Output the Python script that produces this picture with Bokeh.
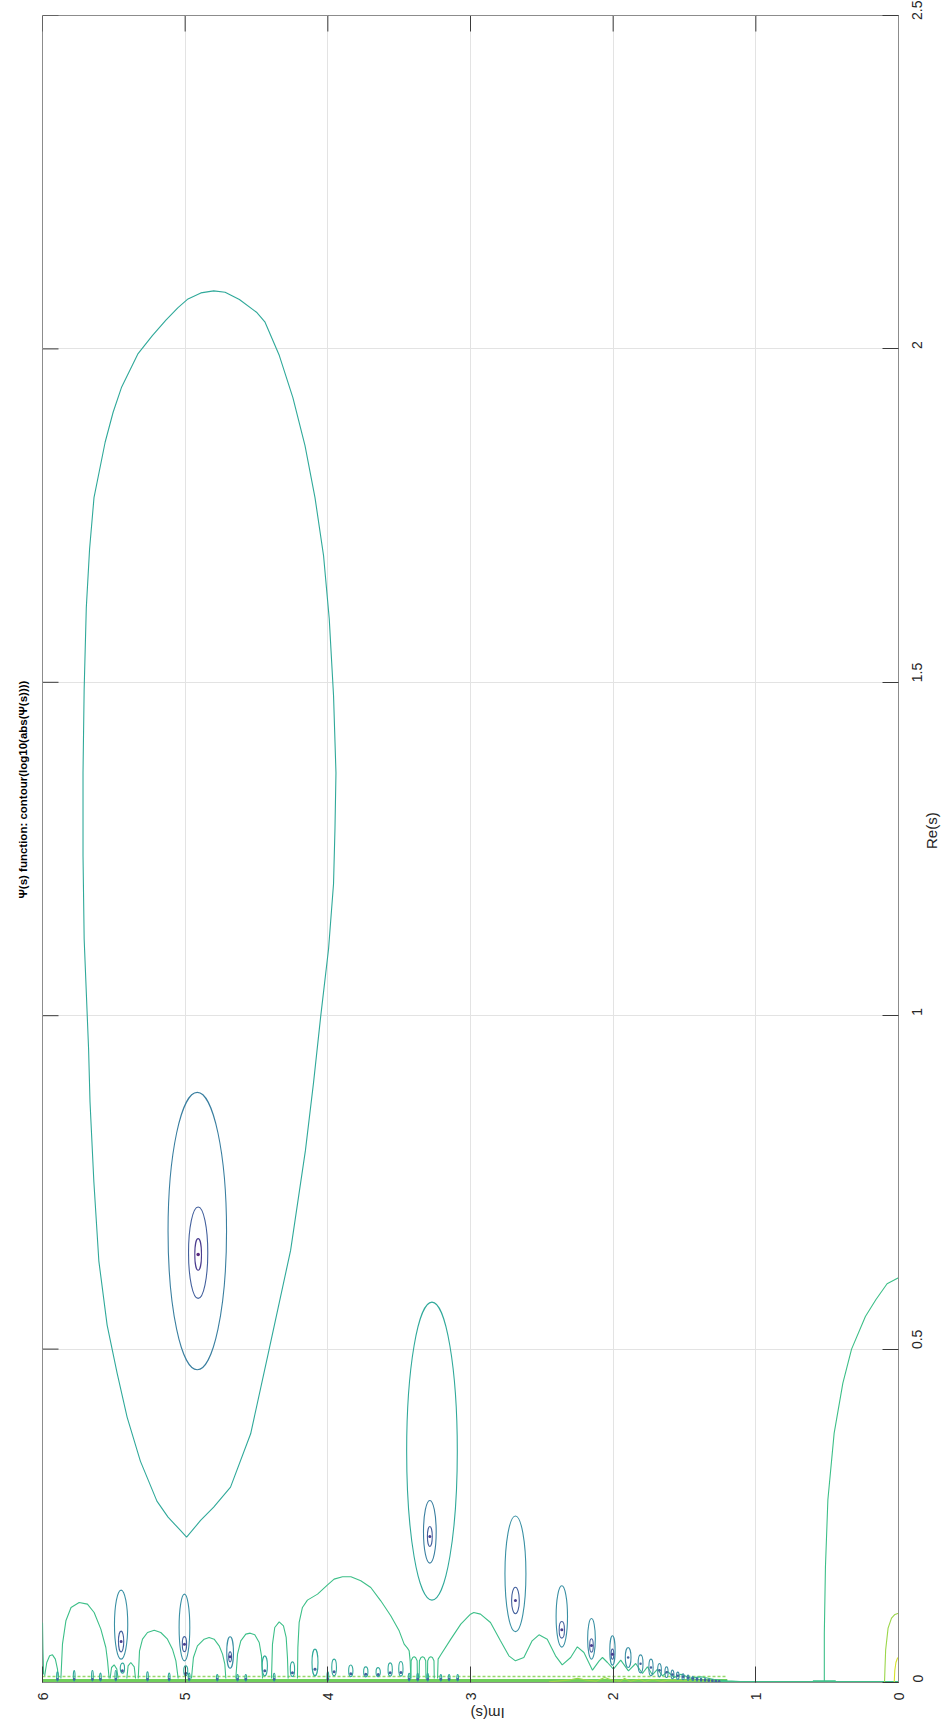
import math
from bokeh.plotting import figure
from bokeh.models import Range1d, FixedTicker
from bokeh.embed import file_html
from bokeh.resources import INLINE

# ---- axis ticks ----
im_ticks = [0, 1, 2, 3, 4, 5, 6]
re_ticks = [0, 0.5, 1, 1.5, 2, 2.5]
re_tick_labels = ["0", "0.5", "1", "1.5", "2", "2.5"]

# ---- contour level colours (viridis family, low -> high) ----
c_dot = "#5a2a80"
c_core = "#4b3d8f"
c_inner = "#43609d"
c_ring = "#3a7fa0"
c_group = "#3a90a4"
c_main = "#30a99a"
c_arch = "#3dbf88"
c_band = "#6fcf5a"
c_band_hi = "#94d96a"
c_light = "#9bd64a"
c_yellow = "#d6e22a"

# ---- large closed contour around the zero near Im=4.9 (Im, Re) ----
big_im = [4.99, 5.033, 5.12, 5.198, 5.314, 5.407, 5.477, 5.547, 5.605, 5.64, 5.667, 5.677,
          5.708, 5.716, 5.716, 5.708, 5.693, 5.67, 5.639, 5.561, 5.505, 5.445, 5.33, 5.23,
          5.135, 5.05, 4.98, 4.89, 4.80, 4.72, 4.62, 4.5, 4.44, 4.34, 4.245, 4.16, 4.09,
          4.03, 3.99, 3.96, 3.943, 3.95, 3.96, 3.995, 4.05, 4.10, 4.157, 4.261, 4.413,
          4.541, 4.682, 4.8, 4.892, 4.99]
big_re = [0.218, 0.228, 0.248, 0.272, 0.332, 0.398, 0.464, 0.536, 0.632, 0.751, 0.871, 0.95,
          1.115, 1.24, 1.364, 1.49, 1.612, 1.70, 1.777, 1.86, 1.905, 1.943, 1.993, 2.02,
          2.043, 2.062, 2.075, 2.084, 2.087, 2.085, 2.074, 2.055, 2.04, 1.99, 1.927, 1.855,
          1.777, 1.69, 1.595, 1.48, 1.364, 1.28, 1.198, 1.1, 0.999, 0.9, 0.798, 0.648, 0.498,
          0.373, 0.293, 0.263, 0.243, 0.218]

# ---- nested rings around the zero near Im=4.9 ----
z49_im = [4.915, 4.909, 4.909]
z49_re = [0.677, 0.6445, 0.642]
z49_w = [0.41, 0.135, 0.047]
z49_h = [0.416, 0.137, 0.0475]

# ---- nested rings around the zero near Im=3.28 ----
z33_im = [3.27, 3.285, 3.285]
z33_re = [0.347, 0.226, 0.219]
z33_w = [0.355, 0.089, 0.034]
z33_h = [0.447, 0.094, 0.03]

# ---- smaller zero groups: outer and inner rings ----
grp_im = [5.449, 5.005, 4.685, 2.685, 2.36, 2.152, 2.005]
grp_outer_re = [0.0868, 0.0825, 0.045, 0.163, 0.099, 0.0655, 0.048]
grp_outer_w = [0.093, 0.075, 0.047, 0.147, 0.08, 0.054, 0.037]
grp_outer_h = [0.1035, 0.10, 0.047, 0.1735, 0.092, 0.061, 0.044]
grp_inner_re = [0.0615, 0.0575, 0.0385, 0.123, 0.079, 0.0555, 0.0425]
grp_inner_w = [0.037, 0.03, 0.02, 0.054, 0.037, 0.025, 0.018]
grp_inner_h = [0.031, 0.0225, 0.015, 0.04, 0.025, 0.02, 0.015]

# ---- shrinking chain of loops approaching Im=1.25 ----
chain_im = [1.895, 1.808, 1.735, 1.675, 1.626, 1.584, 1.547, 1.51, 1.475, 1.442, 1.412,
            1.384, 1.356, 1.33, 1.305, 1.28, 1.257]
chain_re = [0.0375, 0.028, 0.0225, 0.0185, 0.0155, 0.012, 0.010, 0.0085, 0.007, 0.006,
            0.005, 0.0042, 0.0036, 0.003, 0.0026, 0.0022, 0.0018]
chain_w = [0.04, 0.034, 0.03, 0.026, 0.022, 0.02, 0.018, 0.016, 0.014, 0.013, 0.012,
           0.011, 0.01, 0.009, 0.008, 0.008, 0.007]
chain_h = [0.03, 0.027, 0.025, 0.02, 0.016, 0.013, 0.011, 0.009, 0.008, 0.007, 0.006,
           0.005, 0.0045, 0.004, 0.0035, 0.003, 0.0028]

# ---- small loops close to Re=0 ----
loop_im = [5.44, 4.996, 4.442, 4.248, 4.09, 3.956, 3.839, 3.734, 3.647, 3.563, 3.488]
loop_re = [0.0215, 0.0175, 0.025, 0.02, 0.03, 0.0225, 0.0175, 0.016, 0.0155, 0.0195, 0.0205]
loop_w = [0.03, 0.028, 0.037, 0.03, 0.042, 0.033, 0.03, 0.03, 0.03, 0.03, 0.03]
loop_h = [0.015, 0.015, 0.03, 0.022, 0.04, 0.025, 0.0175, 0.015, 0.0135, 0.02, 0.022]

tooth_im = [5.895, 5.778, 5.65, 5.594, 5.486, 5.264, 5.112, 4.972, 4.775, 4.633, 4.575,
            4.376, 4.0, 3.43, 3.37, 3.30, 3.208, 3.15, 3.09]
tooth_h = [0.014, 0.016, 0.016, 0.012, 0.016, 0.014, 0.012, 0.012, 0.01, 0.01, 0.01,
           0.012, 0.014, 0.012, 0.012, 0.012, 0.01, 0.01, 0.01]

# ---- arch-shaped contours rising from Re=0 ----
bump_im = [
    [6.0, 5.997, 5.992],
    [5.985, 5.97, 5.95, 5.93, 5.91, 5.895, 5.89],
    [5.871, 5.86, 5.836, 5.80, 5.743, 5.685, 5.638, 5.591, 5.556, 5.544, 5.533],
    [5.526, 5.516, 5.498, 5.479, 5.47],
    [5.409, 5.4, 5.381, 5.357, 5.348],
    [5.329, 5.32, 5.299, 5.264, 5.217, 5.171, 5.124, 5.089, 5.065, 5.049],
    [4.956, 4.942, 4.914, 4.867, 4.832, 4.797, 4.762, 4.738, 4.722, 4.715],
    [4.645, 4.633, 4.61, 4.575, 4.544, 4.512, 4.481, 4.465, 4.458],
    [4.395, 4.388, 4.372, 4.341, 4.311, 4.292, 4.283, 4.278],
    [4.213, 4.21, 4.201, 4.178, 4.143, 4.072, 4.002, 3.956, 3.897, 3.838, 3.769, 3.699,
     3.629, 3.559, 3.5, 3.465, 3.442, 3.43, 3.423, 3.418],
    [3.418, 3.416, 3.405, 3.395, 3.385, 3.374, 3.372],
    [3.36, 3.358, 3.347, 3.336, 3.325, 3.314, 3.312],
    [3.302, 3.3, 3.289, 3.278, 3.267, 3.256, 3.254],
    [3.231, 3.227, 3.208, 3.138, 3.068, 3.0, 2.977, 2.93, 2.86, 2.79, 2.731, 2.685, 2.626,
     2.568, 2.52, 2.462, 2.404, 2.357, 2.298, 2.251, 2.205, 2.145, 2.098, 2.075, 2.04,
     1.998, 1.947, 1.893, 1.842, 1.795, 1.76, 1.725, 1.689, 1.654, 1.619, 1.572, 1.525,
     1.455, 1.385, 1.292, 1.199, 1.08],
]
bump_re = [
    [0.09, 0.05, 0.012],
    [0.01, 0.03, 0.04, 0.0415, 0.035, 0.02, 0.01],
    [0.006, 0.0575, 0.0925, 0.1125, 0.12, 0.1175, 0.105, 0.08, 0.0525, 0.0325, 0.006],
    [0.006, 0.0225, 0.0265, 0.02, 0.006],
    [0.006, 0.025, 0.03, 0.0235, 0.006],
    [0.006, 0.0475, 0.065, 0.075, 0.0785, 0.075, 0.065, 0.05, 0.0325, 0.006],
    [0.006, 0.0375, 0.055, 0.065, 0.0675, 0.065, 0.055, 0.0425, 0.0275, 0.006],
    [0.006, 0.0425, 0.0625, 0.0725, 0.074, 0.0715, 0.06, 0.04, 0.006],
    [0.006, 0.0575, 0.0825, 0.091, 0.085, 0.0675, 0.0375, 0.006],
    [0.006, 0.0525, 0.09, 0.1125, 0.1235, 0.1325, 0.1465, 0.155, 0.1585, 0.1585, 0.1525,
     0.1425, 0.1225, 0.10, 0.0775, 0.0575, 0.0515, 0.0475, 0.0325, 0.006],
    [0.006, 0.0325, 0.0375, 0.0385, 0.0375, 0.0325, 0.006],
    [0.006, 0.0325, 0.0375, 0.0385, 0.0375, 0.0325, 0.006],
    [0.006, 0.0325, 0.0375, 0.0385, 0.0375, 0.0325, 0.006],
    [0.006, 0.035, 0.0415, 0.065, 0.0875, 0.1025, 0.105, 0.1025, 0.09, 0.0625, 0.04, 0.0325,
     0.0375, 0.0625, 0.0715, 0.065, 0.04, 0.0265, 0.0375, 0.0535, 0.045, 0.0185, 0.0325,
     0.0375, 0.03, 0.02, 0.0335, 0.0175, 0.0285, 0.0135, 0.0235, 0.0115, 0.02, 0.01,
     0.0165, 0.0075, 0.0125, 0.0065, 0.0085, 0.0045, 0.0025, 0.001],
]

# ---- contours near Im=0 ----
arc_im = [0.52, 0.52, 0.512, 0.495, 0.451, 0.39, 0.329, 0.232, 0.159, 0.08, 0.0]
arc_re = [0.0, 0.074, 0.174, 0.274, 0.374, 0.449, 0.5, 0.549, 0.574, 0.598, 0.607]
foot_im = [0.60, 0.44]
foot_re = [0.002, 0.002]
small_arc_im = [0.098, 0.095, 0.09, 0.073, 0.049, 0.025, 0.0]
small_arc_re = [0.0, 0.02, 0.049, 0.0815, 0.0965, 0.102, 0.104]
yellow_im = [0.03, 0.026, 0.018, 0.008, 0.0]
yellow_re = [0.0, 0.018, 0.03, 0.036, 0.038]

# ---- dense band of tiny loops along Re=0 ----
band_im = [6.0, 1.2]
band_hi_re = [0.009, 0.009]
band_lo_re = [0.003, 0.003]
wave_im = [2.45, 2.3, 2.25, 2.2, 2.12, 2.06, 2.0, 1.95, 1.92, 1.88, 1.82, 1.78, 1.72,
           1.66, 1.6, 1.5, 1.4, 1.3, 1.2]
wave_re = [0.001, 0.004, 0.0065, 0.004, 0.002, 0.0075, 0.003, 0.002, 0.006, 0.002, 0.005,
           0.002, 0.0045, 0.002, 0.004, 0.003, 0.003, 0.002, 0.001]
tail_im = [1.3, 0.0]
tail_re = [0.0012, 0.0012]

FRAME_L, FRAME_R, FRAME_T, FRAME_B = 42, 898, 15, 1682
IM_MIN, IM_MAX, RE_MIN, RE_MAX = 0, 6, 0, 2.5
PX_PER_IM = (FRAME_R - FRAME_L) / (IM_MAX - IM_MIN)
PX_PER_RE = (FRAME_B - FRAME_T) / (RE_MAX - RE_MIN)
TICK_PX = 16

FONT = "Liberation Sans"
TXT = "#262626"

p = figure(frame_width=FRAME_R - FRAME_L, frame_height=FRAME_B - FRAME_T,
           x_range=Range1d(IM_MAX, IM_MIN), y_range=Range1d(RE_MIN, RE_MAX),
           output_backend="svg", toolbar_location=None,
           x_axis_location="below", y_axis_location="right", title_location="left",
           min_border_left=FRAME_L, min_border_right=946 - FRAME_R,
           min_border_top=FRAME_T, min_border_bottom=1731 - FRAME_B,
           background_fill_color="white", border_fill_color="white")
p.outline_line_color = "#8c8c8c"
p.outline_line_width = 1

# title, written along the left side
p.title.text = "Ψ(s) function:  contour(log10(abs(Ψ(s))))"
p.title.align = "left"
p.title.offset = FRAME_B - 898
p.title.standoff = 27
p.title.text_font = FONT
p.title.text_font_size = "11.5px"
p.title.text_font_style = "bold"
p.title.text_color = "#000000"


def style_axis(ax, ticks):
    ax.ticker = FixedTicker(ticks=ticks)
    ax.major_tick_in = TICK_PX
    ax.major_tick_out = 0
    ax.minor_tick_in = 0
    ax.minor_tick_out = 0
    ax.major_tick_line_color = "#3a3a3a"
    ax.major_tick_line_width = 1
    ax.axis_line_color = "#8c8c8c"
    ax.axis_line_width = 1
    ax.major_label_text_font = FONT
    ax.major_label_text_color = TXT
    ax.major_label_text_font_size = "14px"
    ax.axis_label_text_font = FONT
    ax.axis_label_text_font_size = "15px"
    ax.axis_label_text_font_style = "normal"
    ax.axis_label_text_color = TXT


xa = p.xaxis[0]
style_axis(xa, im_ticks)
xa.major_label_orientation = math.pi / 2
xa.major_label_standoff = 10
xa.axis_label = "Im(s)"
xa.axis_label_orientation = math.pi
xa.axis_label_standoff = 10

ya = p.yaxis[0]
style_axis(ya, re_ticks)
ya.major_label_overrides = {t: s for t, s in zip(re_ticks, re_tick_labels)}
ya.major_label_orientation = math.pi / 2
ya.major_label_standoff = 19
ya.axis_label = "Re(s)"
ya.axis_label_orientation = math.pi / 2
ya.axis_label_standoff = 1

# inward tick marks on the top and left sides of the box
tick_len_re = TICK_PX / PX_PER_RE
tick_len_im = TICK_PX / PX_PER_IM
p.segment(x0=im_ticks, y0=[RE_MAX] * len(im_ticks), x1=im_ticks,
          y1=[RE_MAX - tick_len_re] * len(im_ticks), line_color="#3a3a3a", line_width=1)
p.segment(x0=[IM_MAX] * len(re_ticks), y0=re_ticks, x1=[IM_MAX - tick_len_im] * len(re_ticks),
          y1=re_ticks, line_color="#3a3a3a", line_width=1)

p.xgrid.ticker = FixedTicker(ticks=im_ticks)
p.ygrid.ticker = FixedTicker(ticks=re_ticks)
for g in (p.xgrid, p.ygrid):
    g.grid_line_color = "#e3e3e3"
    g.grid_line_width = 1

LW = 1.1

# dense band and low waves along Re = 0
p.line(band_im, band_lo_re, line_color=c_band, line_width=3)
p.line(band_im, band_hi_re, line_color=c_band_hi, line_width=1.6, line_dash="3 2")
p.line(wave_im, wave_re, line_color=c_light, line_width=LW)
p.line(tail_im, tail_re, line_color=c_arch, line_width=1.5)

# arches
p.multi_line(bump_im, bump_re, line_color=c_arch, line_width=LW)

# tiny teeth with dots
p.ellipse(tooth_im, [h / 2 + 0.002 for h in tooth_h], width=0.012, height=tooth_h,
          fill_color=None, line_color=c_main, line_width=LW)
p.scatter(tooth_im, [0.005] * len(tooth_im), size=2.5, marker="circle",
          fill_color=c_inner, line_color=None)

# loops close to Re=0
p.ellipse(loop_im, loop_re, width=loop_w, height=loop_h, fill_color=None,
          line_color=c_main, line_width=LW)
p.scatter(loop_im, [r - h / 4 for r, h in zip(loop_re, loop_h)], size=3, marker="circle",
          fill_color=c_inner, line_color=None)

# chain of loops
p.ellipse(chain_im, chain_re, width=chain_w, height=chain_h, fill_color=None,
          line_color=c_group, line_width=LW)
p.scatter(chain_im, chain_re, size=2.5, marker="circle", fill_color=c_inner, line_color=None)

# smaller zero groups
p.ellipse(grp_im, grp_outer_re, width=grp_outer_w, height=grp_outer_h, fill_color=None,
          line_color=c_group, line_width=LW)
p.ellipse(grp_im, grp_inner_re, width=grp_inner_w, height=grp_inner_h, fill_color=None,
          line_color=c_inner, line_width=LW)
p.scatter(grp_im, grp_inner_re, size=3, marker="circle", fill_color=c_core, line_color=None)

# zero near Im = 3.28
p.ellipse(z33_im[:1], z33_re[:1], width=z33_w[:1], height=z33_h[:1], fill_color=None,
          line_color=c_main, line_width=LW)
p.ellipse(z33_im[1:2], z33_re[1:2], width=z33_w[1:2], height=z33_h[1:2], fill_color=None,
          line_color=c_ring, line_width=LW)
p.ellipse(z33_im[2:], z33_re[2:], width=z33_w[2:], height=z33_h[2:], fill_color=None,
          line_color=c_inner, line_width=LW)
p.scatter(z33_im[2:], z33_re[2:], size=3, marker="circle", fill_color=c_core, line_color=None)

# zero near Im = 4.9
p.line(big_im, big_re, line_color=c_main, line_width=LW)
p.ellipse(z49_im[:1], z49_re[:1], width=z49_w[:1], height=z49_h[:1], fill_color=None,
          line_color=c_ring, line_width=LW)
p.ellipse(z49_im[1:2], z49_re[1:2], width=z49_w[1:2], height=z49_h[1:2], fill_color=None,
          line_color=c_inner, line_width=LW)
p.ellipse(z49_im[2:], z49_re[2:], width=z49_w[2:], height=z49_h[2:], fill_color=None,
          line_color=c_core, line_width=LW)
p.scatter(z49_im[2:], z49_re[2:], size=3.5, marker="circle", fill_color=c_dot, line_color=None)

# contours near Im = 0
p.line(arc_im, arc_re, line_color=c_arch, line_width=LW)
p.line(foot_im, foot_re, line_color=c_arch, line_width=2)
p.line(small_arc_im, small_arc_re, line_color=c_light, line_width=LW)
p.line(yellow_im, yellow_re, line_color=c_yellow, line_width=LW)

open("out.html", "w").write(file_html(p, INLINE))
